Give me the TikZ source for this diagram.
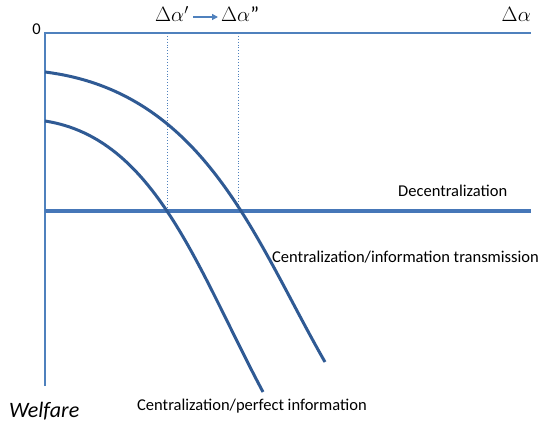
\documentclass[tikz,border=0pt]{standalone}
\usepackage{fontspec}
\setmainfont{Carlito}
\usetikzlibrary{arrows.meta}
\definecolor{axisblue}{HTML}{4F81BD}
\definecolor{curveblue}{HTML}{2F5A94}
\definecolor{flatblue}{HTML}{4677B8}
\tikzset{
  axisline/.style={draw=axisblue, line width=1.3pt},
  guide/.style={draw=axisblue, line width=0.9pt, dotted},
  welfarecurve/.style={draw=curveblue, line width=3pt},
  flatline/.style={draw=flatblue, line width=4.2pt},
  lbl/.style={inner sep=0pt, font=\fontsize{16.5}{18}\selectfont},
  biglbl/.style={inner sep=0pt, font=\fontsize{21}{24}\selectfont}
}
\begin{document}
\begin{tikzpicture}[x=1pt, y=-1pt]
  \useasboundingbox (0,0) rectangle (547,425);
  % axes
  \coordinate (origin) at (45,33);
  \coordinate (xend) at (531,33);
  \coordinate (yend) at (45,386);
  \draw[axisline] (yend) -- (origin) -- (xend);
  % thresholds
  \coordinate (d1top) at (167,33);
  \coordinate (d1bot) at (167,211);
  \coordinate (d2top) at (238.5,33);
  \coordinate (d2bot) at (238.5,211);
  \draw[guide] (d1top) -- (d1bot);
  \draw[guide] (d2top) -- (d2bot);
  % decentralization benchmark
  \coordinate (decL) at (45,211);
  \coordinate (decR) at (531,211);
  \draw[flatline] (decL) -- (decR);
  % centralization curves
  \coordinate (upA) at (45,72);
  \coordinate (upB) at (325,362);
  \draw[welfarecurve] (upA) .. controls (205,92) and (255,240) .. (upB);
  \coordinate (loA) at (45,121);
  \coordinate (loB) at (263,392);
  \draw[welfarecurve] (loA) .. controls (155,138) and (197,268) .. (loB);
  % labels
  \node[lbl, anchor=base east] (zero) at (41,35) {0};
  \node[biglbl, anchor=base east] (xlab) at (531,22) {$\Delta\alpha$};
  \node[biglbl, anchor=base west] (a1) at (155,22) {$\Delta\alpha'$};
  \node[biglbl, anchor=base west] (a2) at (221,22) {$\Delta\alpha$"};
  \draw[-{Triangle[length=6pt,width=6pt]}, draw=axisblue, fill=axisblue, line width=1.3pt] (193,17) -- (218,17);
  \node[lbl, anchor=base west] (declab) at (398,197) {Decentralization};
  \node[lbl, anchor=base west] (itlab) at (272,262) {Centralization/information transmission};
  \node[lbl, anchor=base west] (pilab) at (137,410) {Centralization/perfect information};
  \node[biglbl, anchor=base west, font=\fontsize{22}{24}\selectfont\itshape] (wlab) at (9,417) {Welfare};
\end{tikzpicture}
\end{document}
